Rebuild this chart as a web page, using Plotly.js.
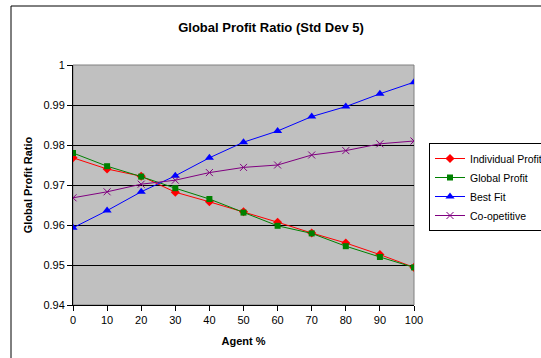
<!DOCTYPE html>
<html>
<head>
<meta charset="utf-8">
<script src="https://cdn.plot.ly/plotly-3.0.1.min.js"></script>
<style>
  html, body { margin: 0; padding: 0; background: #fff; overflow: hidden; }
  #chart { width: 541px; height: 358px; }
</style>
</head>
<body>
<div id="chart"></div>
<script>
// Agent percentage on the x axis
const agentPct = [0, 10, 20, 30, 40, 50, 60, 70, 80, 90, 100];

// Global profit ratio per strategy
const individualProfit = [0.9768, 0.9740, 0.9722, 0.9682, 0.9658, 0.9633, 0.9607, 0.9580, 0.9555, 0.9526, 0.9494];
const globalProfit     = [0.9780, 0.9747, 0.9721, 0.9692, 0.9665, 0.9631, 0.9598, 0.9579, 0.9547, 0.9520, 0.9494];
const bestFit          = [0.9593, 0.9636, 0.9683, 0.9723, 0.9768, 0.9807, 0.9835, 0.9871, 0.9896, 0.9928, 0.9957];
const coopetitive      = [0.9668, 0.9683, 0.9702, 0.9712, 0.9731, 0.9744, 0.9750, 0.9775, 0.9786, 0.9803, 0.9810];

// Y axis tick positions and labels
const yTickVals  = [0.94, 0.95, 0.96, 0.97, 0.98, 0.99, 1];
const yTickText  = ['0.94', '0.95', '0.96', '0.97', '0.98', '0.99', '1'];
const xTickVals  = [0, 10, 20, 30, 40, 50, 60, 70, 80, 90, 100];

const FONT = 'Liberation Sans, Arial, sans-serif';

function series(name, y, color, symbol, size) {
  return {
    type: 'scatter',
    mode: 'lines+markers',
    name: name,
    x: agentPct,
    y: y,
    line: { color: color, width: 1 },
    marker: {
      color: color,
      symbol: symbol,
      size: size,
      line: { color: color, width: symbol === 'x-thin' ? 1 : 0 }
    }
  };
}

const traces = [
  series('Individual Profit', individualProfit, '#FF0000', 'diamond', 7),
  series('Global Profit', globalProfit, '#008000', 'square', 6),
  series('Best Fit', bestFit, '#0000FF', 'triangle-up', 8),
  series('Co-opetitive', coopetitive, '#800080', 'x-thin', 7)
];

const layout = {
  width: 541,
  height: 358,
  margin: { l: 73, r: 127, t: 65, b: 53, pad: 0, autoexpand: false },
  paper_bgcolor: '#FFFFFF',
  plot_bgcolor: '#C0C0C0',
  font: { family: FONT, size: 11, color: '#000000' },
  title: {
    text: '<b>Global Profit Ratio (Std Dev 5)</b>',
    font: { family: FONT, size: 13, color: '#000000' },
    x: 271 / 541, xref: 'container', xanchor: 'center',
    y: 1 - 27 / 358, yref: 'container', yanchor: 'middle'
  },
  xaxis: {
    range: [0, 100],
    tickvals: xTickVals,
    ticks: 'outside', ticklen: 5, tickcolor: '#000000', tickwidth: 1,
    showgrid: false, zeroline: false,
    showline: true, linecolor: '#000000', linewidth: 1,
    tickfont: { family: FONT, size: 11 },
    title: { text: '<b>Agent %</b>', font: { family: FONT, size: 11 }, standoff: 12 }
  },
  yaxis: {
    range: [0.94, 1],
    tickvals: yTickVals,
    ticktext: yTickText,
    ticks: 'outside', ticklen: 5, tickcolor: '#000000', tickwidth: 1,
    showgrid: true, gridcolor: '#000000', gridwidth: 1,
    zeroline: false,
    showline: true, linecolor: '#000000', linewidth: 1,
    tickfont: { family: FONT, size: 11 },
    title: { text: '<b>Global Profit Ratio</b>', font: { family: FONT, size: 11 }, standoff: 8 }
  },
  legend: {
    x: (429 - 73) / 341, xanchor: 'left',
    y: 1 - (143 - 65) / 240, yanchor: 'top',
    bgcolor: '#FFFFFF', bordercolor: '#000000', borderwidth: 1,
    font: { family: FONT, size: 10.5 },
    itemwidth: 30,
    tracegroupgap: 0
  },
  showlegend: true,
  shapes: [
    // grey frame on the top and right of the plotting area
    {
      type: 'rect', xref: 'paper', yref: 'paper', x0: 0, x1: 1, y0: 0, y1: 1,
      line: { color: '#808080', width: 1 }, layer: 'between'
    },
    // outer chart border
    {
      type: 'rect', xref: 'paper', yref: 'paper',
      x0: (11 - 73) / 341, x1: 1.8, y0: -0.5, y1: 1 + (65 - 6) / 240,
      line: { color: '#000000', width: 1 }, fillcolor: 'rgba(0,0,0,0)', layer: 'above'
    }
  ]
};

Plotly.newPlot('chart', traces, layout, { displayModeBar: false, staticPlot: true });
</script>
</body>
</html>
